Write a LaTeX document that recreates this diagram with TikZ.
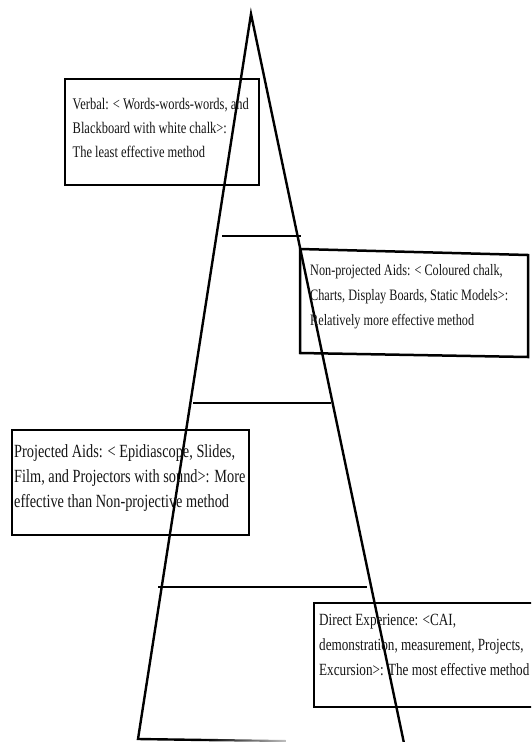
\documentclass[tikz,border=0pt]{standalone}
\usepackage{fontspec}
\newfontfamily\tnr[FakeStretch=0.77]{Liberation Serif}
\begin{document}
\begin{tikzpicture}[x=1pt,y=-1pt,
  edge/.style={line width=2.4pt,line cap=round,line join=miter},
  boxline/.style={line width=2.5pt},
  lbl/.style={anchor=base west,inner sep=0pt,text=black!92},
  fa/.style={font=\tnr\fontsize{16.2}{24}\selectfont},
  fb/.style={font=\tnr\fontsize{15.9}{25}\selectfont},
  fc/.style={font=\tnr\fontsize{18.6}{25}\selectfont},
  fd/.style={font=\tnr\fontsize{17.1}{25}\selectfont}]
\useasboundingbox (0,0) rectangle (531,742);
\clip (0,0) rectangle (531,742);
% pyramid
\coordinate (apex) at (251,14);
\coordinate (bl) at (138,739);
\coordinate (bm) at (205,740);
\coordinate (br) at (405,748);
\draw[edge] (bm) -- (bl) -- (apex) -- (br);
\shade[left color=black,right color=black!25] (205,738.8) -- (286,740) -- (286,742) -- (205,741.2) -- cycle;
% level lines
\coordinate (h1a) at (222,236); \coordinate (h1b) at (301,236);
\coordinate (h2a) at (193,403); \coordinate (h2b) at (331,403);
\coordinate (h3a) at (158,587); \coordinate (h3b) at (367,587);
\draw[edge,line cap=butt] (h1a) -- (h1b);
\draw[edge,line cap=butt] (h2a) -- (h2b);
\draw[edge,line cap=butt] (h3a) -- (h3b);
% boxes
\draw[boxline] (65,79) rectangle (259,185);
\draw[boxline] (300,249) -- (528,255) -- (528,357) -- (300,353) -- cycle;
\draw[boxline] (12,430) rectangle (249,535);
\draw[boxline] (314,603) rectangle (545,707);
% texts
\node[lbl,fa] (t1a) at (72.5,109) {Verbal: < Words-words-words, and};
\node[lbl,fa] (t1b) at (72.5,133) {Blackboard with white chalk>:};
\node[lbl,fa] (t1c) at (72.5,157) {The least effective method};
\node[lbl,fb] (t2a) at (310,275) {Non-projected Aids: < Coloured chalk,};
\node[lbl,fb] (t2b) at (310,300) {Charts, Display Boards, Static Models>:};
\node[lbl,fb] (t2c) at (310,325) {Relatively more effective method};
\node[lbl,fc] (t3a) at (14,457) {Projected Aids: < Epidiascope, Slides,};
\node[lbl,fc] (t3b) at (14,482) {Film, and Projectors with sound>: More};
\node[lbl,fc] (t3c) at (14,507) {effective than Non-projective method};
\node[lbl,fd] (t4a) at (319,625) {Direct Experience: <CAI,};
\node[lbl,fd] (t4b) at (319,650) {demonstration, measurement, Projects,};
\node[lbl,fd] (t4c) at (319,675) {Excursion>: The most effective method};
\end{tikzpicture}
\end{document}
